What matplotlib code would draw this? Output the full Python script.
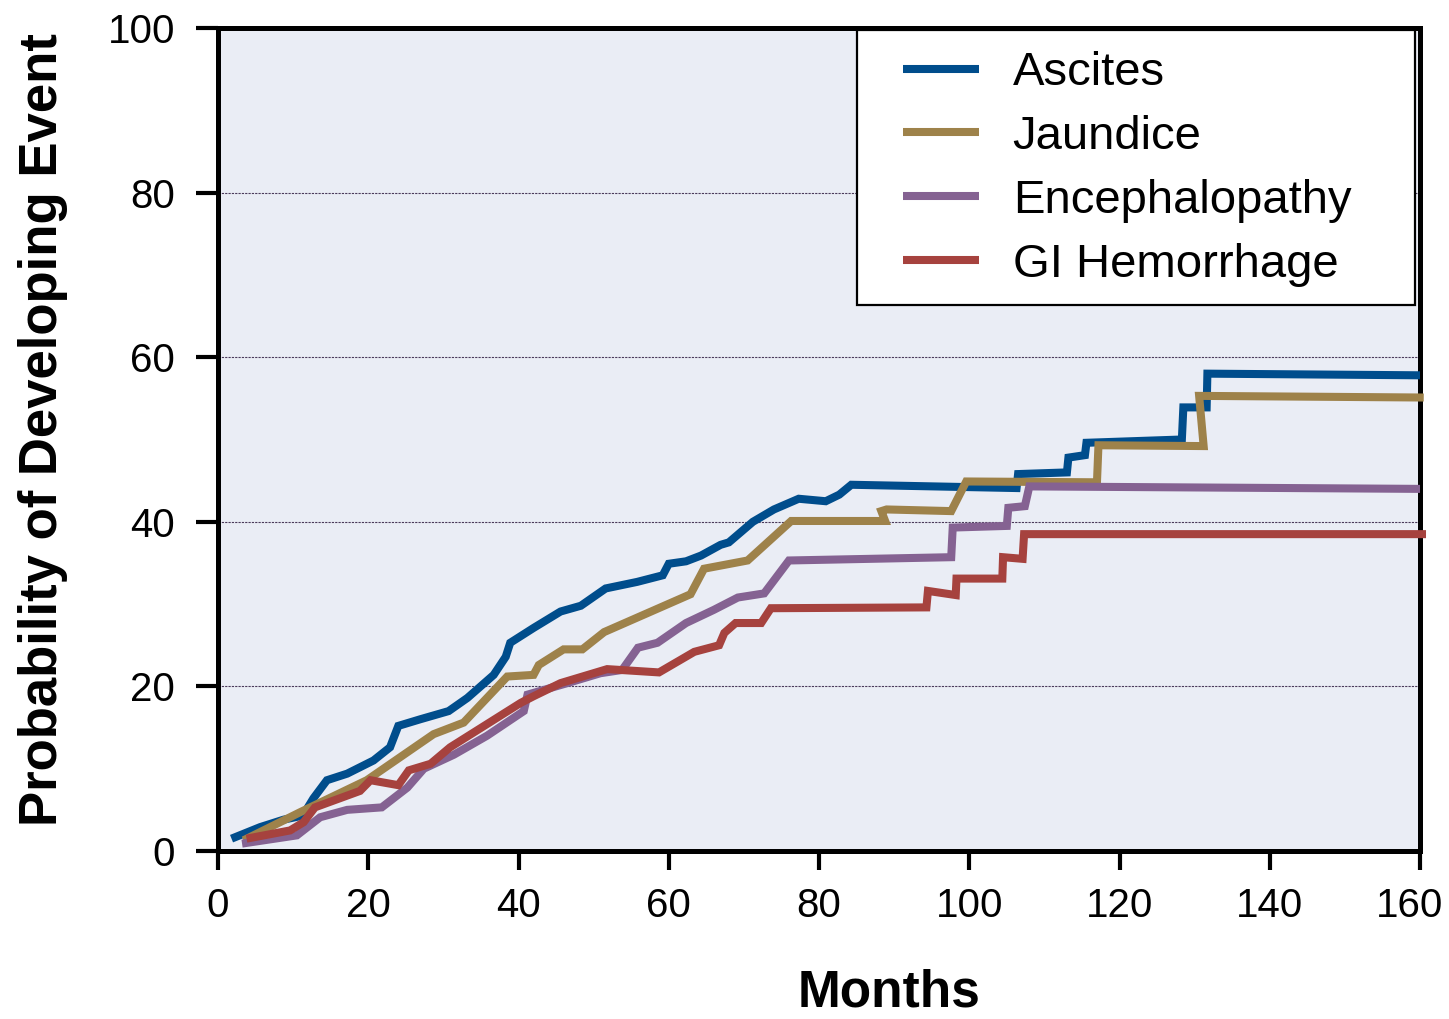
import numpy as np
import matplotlib
matplotlib.use('Agg')
import matplotlib.pyplot as plt
from matplotlib.patches import Rectangle
from matplotlib.transforms import ScaledTranslation

plt.rcParams['font.family'] = ['Liberation Sans', 'DejaVu Sans']

# Cumulative probability (%) of each event against months
ascites_x = [1.8, 5.6, 8.7, 11.3, 12.7, 14.5, 17.2, 20.7, 22.9, 24.0, 26.9, 30.7, 33.2, 36.7,
             38.3, 38.9, 42.0, 45.6, 48.3, 51.6, 55.8, 59.2, 60.0, 62.3, 64.3, 66.9, 68.0,
             71.2, 74.0, 77.3, 80.9, 82.7, 84.3, 106.3, 106.5, 113.0, 113.2, 115.4, 115.6,
             128.3, 128.5, 131.6, 131.7, 160.0]
ascites_y = [1.5, 2.9, 3.8, 4.3, 6.4, 8.6, 9.4, 11.0, 12.6, 15.2, 16.0, 17.0, 18.6, 21.4,
             23.6, 25.3, 27.1, 29.1, 29.8, 31.9, 32.7, 33.5, 34.9, 35.2, 35.9, 37.2, 37.5,
             40.0, 41.5, 42.8, 42.5, 43.3, 44.5, 44.1, 45.8, 46.0, 47.8, 48.1, 49.6,
             50.0, 53.9, 53.9, 58.0, 57.8]

jaundice_x = [3.4, 10.9, 19.8, 28.7, 32.7, 38.5, 42.0, 42.7, 46.0, 48.5, 51.4, 62.9, 64.7,
              70.5, 76.3, 88.8, 88.3, 89.0, 97.6, 99.6, 117.0, 117.2, 131.2, 130.6, 160.5]
jaundice_y = [1.3, 4.7, 8.6, 14.2, 15.6, 21.2, 21.4, 22.6, 24.5, 24.5, 26.6, 31.2, 34.3,
              35.3, 40.1, 40.1, 41.3, 41.5, 41.3, 44.9, 44.8, 49.3, 49.2, 55.3, 55.1]

enceph_x = [3.2, 10.5, 13.6, 17.2, 21.8, 25.2, 27.4, 31.4, 35.8, 40.7, 41.2, 46.5, 50.9,
            53.8, 55.9, 58.5, 62.3, 66.0, 69.2, 72.7, 76.0, 97.6, 97.8, 105.0, 105.2,
            107.4, 108.0, 160.0]
enceph_y = [0.9, 1.9, 4.1, 5.0, 5.3, 7.7, 10.0, 11.7, 14.0, 17.0, 19.0, 20.4, 21.6,
            22.0, 24.7, 25.3, 27.7, 29.3, 30.8, 31.3, 35.3, 35.7, 39.3, 39.5, 41.7,
            41.9, 44.3, 44.0]

gi_x = [3.8, 9.6, 11.4, 12.9, 18.9, 20.3, 24.0, 25.4, 28.3, 30.9, 40.3, 42.0, 45.6, 51.8,
        58.7, 63.4, 66.7, 67.4, 68.9, 72.3, 73.6, 94.3, 94.5, 98.2, 98.3, 104.4, 104.5,
        107.1, 107.3, 160.8]
gi_y = [1.5, 2.5, 3.5, 5.3, 7.3, 8.6, 8.0, 9.8, 10.6, 12.6, 18.0, 18.8, 20.4, 22.1,
        21.7, 24.2, 25.0, 26.5, 27.7, 27.7, 29.5, 29.6, 31.6, 31.1, 33.1, 33.1, 35.7,
        35.5, 38.5, 38.5]

series = [
    ('Ascites', ascites_x, ascites_y, '#004D8C'),
    ('Jaundice', jaundice_x, jaundice_y, '#9E824A'),
    ('Encephalopathy', enceph_x, enceph_y, '#856292'),
    ('GI Hemorrhage', gi_x, gi_y, '#A6423E'),
]

x_ticks = [0, 20, 40, 60, 80, 100, 120, 140, 160]
y_ticks = [0, 20, 40, 60, 80, 100]

fig = plt.figure(figsize=(14.49, 10.19), dpi=100)
ax = fig.add_axes([218 / 1449, 168 / 1019, 1202 / 1449, 823 / 1019])
ax.set_facecolor('#EAEDF5')

for name, xs, ys, col in series:
    ax.plot(xs, ys, color=col, lw=5.8, label=name, solid_joinstyle='miter',
            solid_capstyle='butt', clip_on=False, zorder=3)

ax.set_xlim(0, 160)
ax.set_ylim(0, 100)
ax.set_xticks(x_ticks)
ax.set_yticks(y_ticks)

for y in y_ticks[1:-1]:
    ax.axhline(y, color='#4A3A5A', lw=0.8, ls=(0, (2, 1)), zorder=1)

for s in ax.spines.values():
    s.set_linewidth(3.6)
    s.set_color('black')

ax.tick_params(axis='x', direction='out', length=14, width=3, pad=12, labelsize=29)
ax.tick_params(axis='y', direction='out', length=16, width=3, pad=15, labelsize=29)

# last x label sits a little to the left so it stays inside the figure
lab = ax.get_xticklabels()[-1]
lab.set_transform(lab.get_transform() + ScaledTranslation(-0.10, 0, fig.dpi_scale_trans))

ax.set_xlabel('Months', fontsize=37, fontweight='bold', va='baseline')
ax.xaxis.set_label_coords(0.558, -0.189)
ax.set_ylabel('Probability of Developing Event', fontsize=38, fontweight='bold')
ax.yaxis.set_label_coords(-0.125, 0.5115)

# legend box
ax.add_patch(Rectangle((0.5316, 0.6634), 0.9958 - 0.5316, 0.9976 - 0.6634,
                       transform=ax.transAxes, facecolor='white', edgecolor='black',
                       lw=1.6, zorder=4))
leg = ax.legend(loc='upper left', bbox_to_anchor=(0.570, 0.972), frameon=False,
                fontsize=34, handlelength=1.6, handletextpad=0.72, labelspacing=0.42,
                borderpad=0, borderaxespad=0)
leg.set_zorder(5)

fig.savefig('out.png', dpi=100)
